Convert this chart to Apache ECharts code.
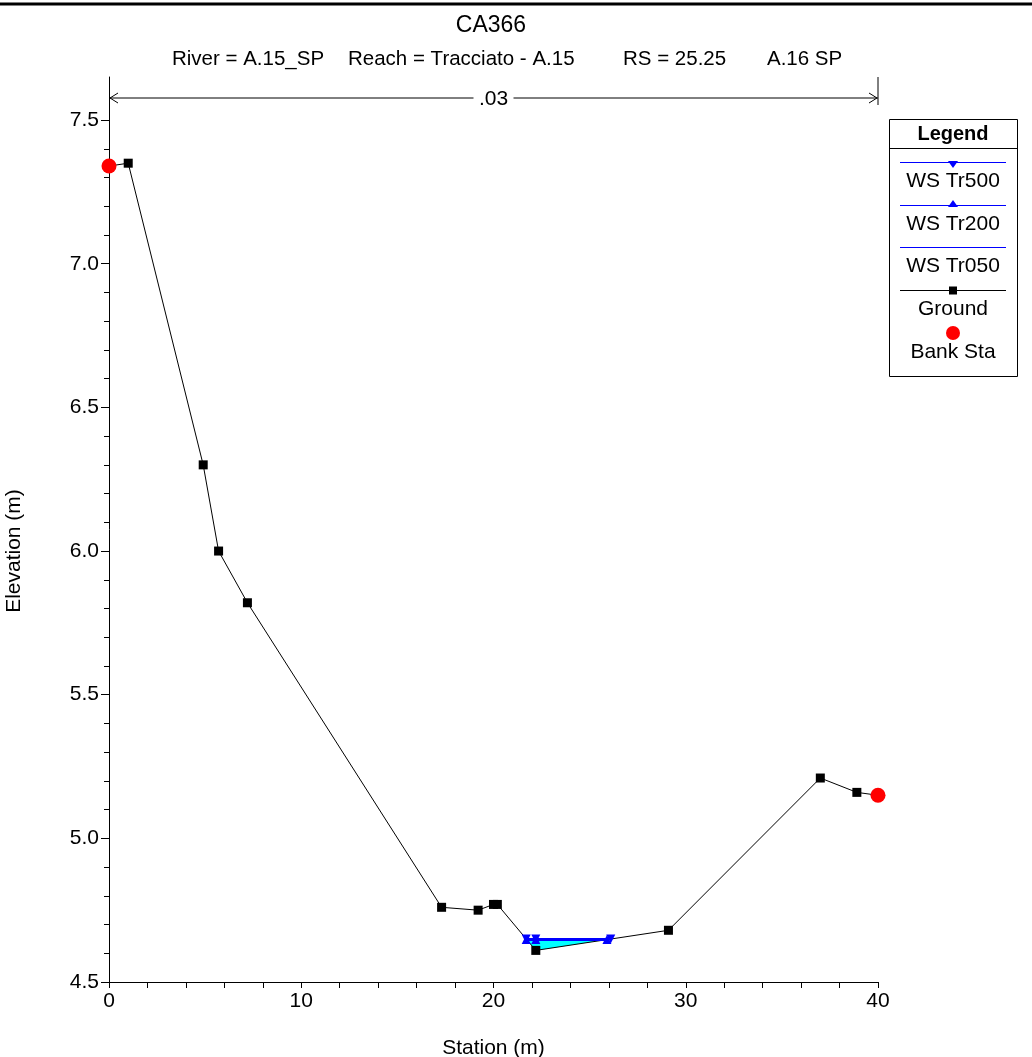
<!DOCTYPE html>
<html><head><meta charset="utf-8">
<script src="https://cdn.jsdelivr.net/npm/echarts@6/dist/echarts.min.js"></script>
<style>html,body{margin:0;padding:0;background:#fff}#c{width:1032px;height:1057px}</style>
</head><body><div id="c"></div>
<script>
// ---- data ----
const titleText = 'CA366';
const subtitleParts = ['River = A.15_SP', 'Reach = Tracciato - A.15', 'RS = 25.25', 'A.16 SP'];
const manningText = '.03';
const yAxisTitle = 'Elevation (m)';
const xAxisTitle = 'Station (m)';
const groundX = [0, 1.0, 4.9, 5.7, 7.2, 17.3, 19.2, 20.0, 20.2, 22.2, 29.1, 37.0, 38.9, 40.0];
const groundY = [7.34, 7.35, 6.30, 6.00, 5.82, 4.76, 4.75, 4.77, 4.77, 4.61, 4.68, 5.21, 5.16, 5.15];
const bankX = [0, 40.0];
const bankY = [7.34, 5.15];
const wsTr500X = [21.7, 22.2, 26.1];
const wsTr500Y = [4.65, 4.65, 4.65];
const wsTr200X = [21.7, 22.2, 25.9];
const wsTr200Y = [4.648, 4.648, 4.648];
const wsTr050X = [21.7, 22.2, 25.9];
const wsTr050Y = [4.646, 4.646, 4.646];
const xTicks = [0, 10, 20, 30, 40];
const yTickLabels = [4.5, 5.0, 5.5, 6.0, 6.5, 7.0, 7.5];
const yMinorTicks = [4.5,4.6,4.7,4.8,4.9,5.0,5.1,5.2,5.3,5.4,5.5,5.6,5.7,5.8,5.9,6.0,6.1,6.2,6.3,6.4,6.5,6.6,6.7,6.8,6.9,7.0,7.1,7.2,7.3,7.4,7.5];
const legendNames = ['WS Tr500', 'WS Tr200', 'WS Tr050', 'Ground', 'Bank Sta'];

const zip = (a, b) => a.map((v, i) => [v, b[i]]);
// water polygon: WS surface + ground points beneath
const wsLevel = wsTr500Y[0];
const wL = wsTr500X[0], wR = wsTr500X[wsTr500X.length - 1];
const waterPoly = [[wL, wsLevel], [wR, wsLevel]];
for (let i = groundX.length - 1; i >= 0; i--) {
  if (groundX[i] > wL && groundX[i] < wR) waterPoly.push([groundX[i], groundY[i]]);
}

const FONT = 'Liberation Sans';
const FS = 21;
const chart = echarts.init(document.getElementById('c'), null, {renderer: 'canvas'});
const GL = 109, GR = 154, GT = 77, GB = 75;

const option = {
  animation: false,
  backgroundColor: '#fff',
  textStyle: {fontFamily: FONT, color: '#000'},
  grid: {left: GL, right: GR, top: GT, bottom: GB, containLabel: false, outerBoundsMode: 'none'},
  xAxis: {
    type: 'value', min: 0, max: 40, interval: 10,
    name: xAxisTitle, nameLocation: 'middle', nameGap: 56,
    nameTextStyle: {fontFamily: FONT, fontSize: FS, color: '#000'},
    axisLine: {show: true, lineStyle: {color: '#000', width: 1}},
    axisTick: {show: true, length: 6, lineStyle: {color: '#000'}},
    minorTick: {show: true, splitNumber: 5, length: 6, lineStyle: {color: '#000'}},
    axisLabel: {fontFamily: FONT, fontSize: FS, color: '#000', margin: 9,
      customValues: xTicks},
    splitLine: {show: false}, minorSplitLine: {show: false}
  },
  yAxis: [{
    type: 'value', min: 4.5, max: 7.65,
    axisLine: {show: true, lineStyle: {color: '#000', width: 1}},
    axisTick: {show: true, length: 8, customValues: yTickLabels, lineStyle: {color: '#000'}},
    axisLabel: {fontFamily: FONT, fontSize: FS, color: '#000', margin: 10,
      customValues: yTickLabels, formatter: v => v.toFixed(1)},
    splitLine: {show: false}
  }, {
    type: 'value', min: 4.5, max: 7.65, position: 'left',
    axisLine: {show: false},
    axisTick: {show: true, length: 5, customValues: yMinorTicks, lineStyle: {color: '#000'}},
    axisLabel: {show: false},
    splitLine: {show: false}
  }],
  series: [
    {
      type: 'custom', name: 'water', z: 1,
      renderItem: (params, api) => {
        if (params.dataIndex !== 0) return null;
        const pts = waterPoly.map(p => api.coord(p));
        return {type: 'polygon', shape: {points: pts}, style: {fill: '#00FFFF', stroke: null}};
      },
      data: [[wL, wsLevel]], silent: true
    },
    {type: 'line', name: 'Ground', data: zip(groundX, groundY), z: 3,
     symbol: 'rect', symbolSize: 9, showAllSymbol: true,
     lineStyle: {color: '#000', width: 1}, itemStyle: {color: '#000'}},
    {type: 'line', name: 'WS Tr050', data: zip(wsTr050X, wsTr050Y), z: 4,
     symbol: 'none', lineStyle: {color: '#0000FF', width: 2}},
    {type: 'line', name: 'WS Tr200', data: zip(wsTr200X, wsTr200Y), z: 5,
     symbol: 'triangle', symbolSize: 9, showAllSymbol: true,
     lineStyle: {color: '#0000FF', width: 2}, itemStyle: {color: '#0000FF'}},
    {type: 'line', name: 'WS Tr500', data: zip(wsTr500X, wsTr500Y), z: 6,
     symbol: 'triangle', symbolRotate: 180, symbolSize: 9, showAllSymbol: true,
     lineStyle: {color: '#0000FF', width: 2}, itemStyle: {color: '#0000FF'}},
    {type: 'scatter', name: 'Bank Sta', data: zip(bankX, bankY), z: 7,
     symbol: 'circle', symbolSize: 15, itemStyle: {color: '#FF0000', opacity: 1}}
  ]
};
chart.setOption(option);

// annotations (title, manning arrow, legend)
const p0 = chart.convertToPixel({xAxisIndex: 0, yAxisIndex: 0}, [0, 7.65]);
const p1 = chart.convertToPixel({xAxisIndex: 0, yAxisIndex: 0}, [40, 7.65]);
const ay = 98;
const xl = p0[0], xr = p1[0], xm = (xl + xr) / 2;
const stroke = {stroke: '#000', lineWidth: 1};
const subX = [172, 348, 623, 767];
const g = [
  {type: 'line', shape: {x1: 0, y1: 4, x2: 1032, y2: 4}, style: {stroke: '#000', lineWidth: 3}},
  {type: 'text', x: 491, y: 26, style: {text: titleText, font: '23px ' + FONT, fill: '#000', textAlign: 'center', textVerticalAlign: 'middle'}},
  {type: 'text', x: 14, y: 551, rotation: Math.PI / 2, style: {text: yAxisTitle, font: FS + 'px ' + FONT, fill: '#000', textAlign: 'center', textVerticalAlign: 'middle'}},
  {type: 'line', shape: {x1: xl, y1: ay, x2: xr, y2: ay}, style: stroke},
  {type: 'polyline', shape: {points: [[xl + 9, ay - 5], [xl + 1, ay], [xl + 9, ay + 5]]}, style: {stroke: '#000', lineWidth: 1, fill: null}},
  {type: 'polyline', shape: {points: [[xr - 9, ay - 5], [xr - 1, ay], [xr - 9, ay + 5]]}, style: {stroke: '#000', lineWidth: 1, fill: null}},
  {type: 'line', shape: {x1: xr, y1: p1[1], x2: xr, y2: 105}, style: stroke},
  {type: 'rect', shape: {x: xm - 20, y: ay - 12, width: 40, height: 24}, style: {fill: '#fff'}},
  {type: 'text', x: xm, y: ay + 1, style: {text: manningText, font: FS + 'px ' + FONT, fill: '#000', textAlign: 'center', textVerticalAlign: 'middle'}}
];
subtitleParts.forEach((t, i) => {
  g.push({type: 'text', x: subX[i], y: 59, style: {text: t, font: '20.5px ' + FONT, fill: '#000', textAlign: 'left', textVerticalAlign: 'middle'}});
});
// legend box
const LX = 889, LY = 119, LW = 128, LH = 257, LC = LX + LW / 2;
g.push({type: 'rect', shape: {x: LX + 0.5, y: LY + 0.5, width: LW, height: LH}, style: {fill: '#fff', stroke: '#000', lineWidth: 1}});
g.push({type: 'line', shape: {x1: LX, y1: LY + 29.5, x2: LX + LW, y2: LY + 29.5}, style: stroke});
g.push({type: 'text', x: LC, y: LY + 15, style: {text: 'Legend', font: 'bold 20px ' + FONT, fill: '#000', textAlign: 'center', textVerticalAlign: 'middle'}});
const rows = [162, 205, 247, 290];
const lcol = ['#0000FF', '#0000FF', '#0000FF', '#000'];
rows.forEach((yy, i) => {
  g.push({type: 'line', shape: {x1: 900, y1: yy + 0.5, x2: 1006, y2: yy + 0.5}, style: {stroke: lcol[i], lineWidth: 1}});
  if (i === 0) g.push({type: 'polygon', shape: {points: [[948, yy - 1], [958, yy - 1], [953, yy + 6]]}, style: {fill: '#0000FF'}});
  if (i === 1) g.push({type: 'polygon', shape: {points: [[948, yy + 2], [958, yy + 2], [953, yy - 5]]}, style: {fill: '#0000FF'}});
  if (i === 3) g.push({type: 'rect', shape: {x: 949, y: yy - 3.5, width: 8, height: 8}, style: {fill: '#000'}});
  g.push({type: 'text', x: LC, y: yy + 19, style: {text: legendNames[i], font: FS + 'px ' + FONT, fill: '#000', textAlign: 'center', textVerticalAlign: 'middle'}});
});
g.push({type: 'circle', shape: {cx: 953, cy: 333, r: 7}, style: {fill: '#FF0000'}});
g.push({type: 'text', x: LC, y: 352, style: {text: legendNames[4], font: FS + 'px ' + FONT, fill: '#000', textAlign: 'center', textVerticalAlign: 'middle'}});
chart.setOption({graphic: {elements: g.map(e => Object.assign({z: 100, silent: true}, e))}});
</script></body></html>
